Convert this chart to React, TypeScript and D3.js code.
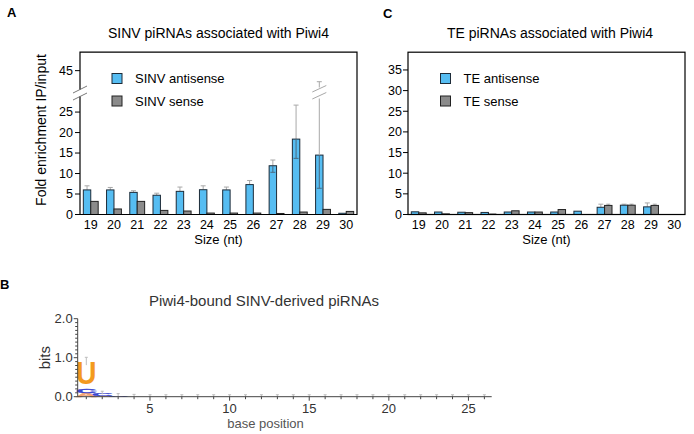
import * as d3 from 'd3'

// ---- data ----
const sizes = [19, 20, 21, 22, 23, 24, 25, 26, 27, 28, 29, 30]

const sinvAntisense = [6.0, 6.0, 5.4, 4.7, 5.65, 6.05, 6.0, 7.3, 11.9, 18.4, 14.5, 0.3]
const sinvAntisenseErrUp = [1.0, 0.6, 0.4, 0.5, 1.05, 0.95, 0.7, 1.0, 1.4, 8.3, 27.8, 0]
const sinvAntisenseErrDown = [0, 0, 0, 0, 0, 0, 0, 0, 1.6, 4.7, 8.1, 0]
const sinvSense = [3.2, 1.35, 3.2, 1.0, 0.85, 0.35, 0.35, 0.35, 0.25, 0.6, 1.25, 0.75]

const teAntisense = [0.65, 0.6, 0.55, 0.5, 0.6, 0.6, 0.6, 0.8, 1.75, 2.25, 1.85, 0]
const teAntisenseErr = [0, 0, 0, 0, 0, 0, 0, 0, 0.75, 0.25, 0.95, 0]
const teSense = [0.4, 0.15, 0.45, 0.1, 0.9, 0.6, 1.2, 0, 2.2, 2.25, 2.2, 0]
const teSenseErr = [0, 0, 0, 0, 0, 0, 0, 0, 0.3, 0.25, 0.3, 0]

const ticksALow = [0, 5, 10, 15, 20, 25]
const ticksAUp = [45]
const ticksC = [0, 5, 10, 15, 20, 25, 30, 35]

// sequence logo: stacked letters per position (bottom -> top), in bits
const logoStacks = [
  { pos: 1, letters: [{ l: 'A', bits: 0.1 }, { l: 'C', bits: 0.11 }, { l: 'U', bits: 0.7 }] },
  { pos: 2, letters: [{ l: 'A', bits: 0.03 }, { l: 'C', bits: 0.07 }] },
  { pos: 3, letters: [{ l: 'C', bits: 0.04 }] },
]
const logoPositions = d3.range(1, 27)
const logoTotal = [0.91, 0.1, 0.04, 0.01, 0, 0, 0, 0, 0, 0, 0, 0, 0, 0, 0, 0, 0, 0, 0, 0, 0, 0, 0, 0, 0, 0]
const logoErr = [0.1, 0.04, 0.04, 0.05, 0.05, 0.05, 0.05, 0.05, 0.05, 0.05, 0.05, 0.05, 0.05, 0.05, 0.05, 0.05, 0.05, 0.05, 0.05, 0.05, 0.05, 0.05, 0.05, 0.05, 0.05, 0.05]
const logoTicksMajor = [5, 10, 15, 20, 25]
const logoTicksY = [0, 1, 2]

const letterColor: Record<string, string> = { U: '#f39a1e', C: '#3a46cf', A: '#f2a272', G: '#f2b100' }

const FONT = 'Liberation Sans, Arial, Helvetica, sans-serif'
const BLUE = '#56bdf2'
const GRAY = '#8b8b8b'
const ERR = '#a8a8a8'

type BarProps = {
  x0: number
  x1: number
  y: (v: number) => number
  anti: number[]
  sense: number[]
  antiUp: number[]
  antiDown: number[]
  senseUp: number[]
}

function Bars({ x0, x1, y, anti, sense, antiUp, antiDown, senseUp }: BarProps) {
  const x = d3.scaleBand<number>().domain(sizes).range([x0, x1]).paddingInner(0.36).paddingOuter(0.143)
  const bw = x.bandwidth() / 2
  const y0 = y(0)
  return (
    <g>
      {sizes.map((s, i) => {
        const xa = x(s)!
        const xs = xa + bw
        const hasSense = sense[i] > 0
        return (
          <g key={s}>
            {sense[i] > 0 && senseUp[i] > 0 && (
              <g stroke={ERR} strokeWidth={1}>
                <line x1={xs + bw / 2} x2={xs + bw / 2} y1={y(sense[i])} y2={y(sense[i] + senseUp[i])} />
                <line x1={xs + bw / 2 - 2} x2={xs + bw / 2 + 2} y1={y(sense[i] + senseUp[i])} y2={y(sense[i] + senseUp[i])} />
              </g>
            )}
            {antiUp[i] > 0 && anti[i] + antiUp[i] <= 28.8 && (
              <g stroke={ERR} strokeWidth={1}>
                <line x1={xa + bw / 2} x2={xa + bw / 2} y1={y(anti[i])} y2={y(anti[i] + antiUp[i])} />
                <line x1={xa + bw / 2 - 2.5} x2={xa + bw / 2 + 2.5} y1={y(anti[i] + antiUp[i])} y2={y(anti[i] + antiUp[i])} />
              </g>
            )}
            {anti[i] > 0 && (
              <rect x={xa} y={y(anti[i])} width={bw} height={y0 - y(anti[i])} fill={BLUE} stroke="#1d2b38" strokeWidth={1} />
            )}
            {hasSense && (
              <rect x={xs} y={y(sense[i])} width={bw} height={y0 - y(sense[i])} fill={GRAY} stroke="#222" strokeWidth={1} />
            )}
            {antiDown[i] > 0 && (
              <line x1={xa + bw / 2} x2={xa + bw / 2} y1={y(anti[i])} y2={y(anti[i] - antiDown[i])} stroke="#4a6a80" strokeWidth={1} />
            )}
            {antiDown[i] > 0 && (
              <line x1={xa + bw / 2 - 2.5} x2={xa + bw / 2 + 2.5} y1={y(anti[i] - antiDown[i])} y2={y(anti[i] - antiDown[i])} stroke="#4a6a80" strokeWidth={1} />
            )}
          </g>
        )
      })}
    </g>
  )
}

function XLabels({ x0, x1, yBase }: { x0: number; x1: number; yBase: number }) {
  const x = d3.scaleBand<number>().domain(sizes).range([x0, x1]).paddingInner(0.36).paddingOuter(0.143)
  return (
    <g fontSize={12.5} textAnchor="middle">
      {sizes.map((s) => (
        <text key={s} x={x(s)! + x.bandwidth() / 2} y={yBase}>
          {s}
        </text>
      ))}
      <text x={(x0 + x1) / 2} y={yBase + 15} fontSize={13}>
        Size (nt)
      </text>
    </g>
  )
}

function Legend({ x, y, labels }: { x: number; y: number; labels: string[] }) {
  return (
    <g fontSize={13}>
      <rect x={x} y={y} width={10} height={10} fill={BLUE} stroke="#1d2b38" strokeWidth={1} />
      <text x={x + 23} y={y + 9.5}>{labels[0]}</text>
      <rect x={x} y={y + 22.5} width={10} height={10} fill={GRAY} stroke="#222" strokeWidth={1} />
      <text x={x + 23} y={y + 32}>{labels[1]}</text>
    </g>
  )
}

function PanelA() {
  const L = 80, R = 357, T = 52.2, B = 214.5
  const gapLo = 96.5, gapHi = 89.5
  const yLow = d3.scaleLinear().domain([0, 28.8]).range([B, gapLo])
  const yUp = d3.scaleLinear().domain([40.4, 49.5]).range([gapHi, T])
  const y = (v: number) => (v <= 28.8 ? yLow(v) : yUp(v))
  const x = d3.scaleBand<number>().domain(sizes).range([L, R]).paddingInner(0.36).paddingOuter(0.143)
  const bw = x.bandwidth() / 2
  // broken error bar for 29
  const i29 = sizes.indexOf(29)
  const cx29 = x(29)! + bw / 2
  const top29 = sinvAntisense[i29] + sinvAntisenseErrUp[i29]
  return (
    <g>
      <text x={7} y={17} fontSize={13} fontWeight="bold">A</text>
      <text x={(L + R) / 2} y={38} fontSize={14} textAnchor="middle">SINV piRNAs associated with Piwi4</text>
      <Bars x0={L} x1={R} y={y} anti={sinvAntisense} sense={sinvSense} antiUp={sinvAntisenseErrUp} antiDown={sinvAntisenseErrDown} senseUp={sizes.map(() => 0)} />
      <g stroke={ERR} strokeWidth={1}>
        <line x1={cx29} x2={cx29} y1={yLow(sinvAntisense[i29])} y2={gapLo + 2} />
        <line x1={cx29} x2={cx29} y1={gapHi - 2} y2={yUp(top29)} />
        <line x1={cx29 - 2.5} x2={cx29 + 2.5} y1={yUp(top29)} y2={yUp(top29)} />
        <line x1={cx29 - 7} x2={cx29 + 7} y1={gapHi + 2.5} y2={gapHi - 4} />
        <line x1={cx29 - 7} x2={cx29 + 7} y1={gapLo + 2.5} y2={gapLo - 4} />
      </g>
      {/* frame with broken left axis */}
      <g stroke="#000" strokeWidth={1.2} fill="none">
        <path d={`M${L},${gapHi}V${T}H${R}V${B}H${L}V${gapLo}`} />
        <line x1={L - 7} x2={L + 7} y1={gapHi + 3.5} y2={gapHi - 3.5} strokeWidth={0.8} stroke="#555" />
        <line x1={L - 7} x2={L + 7} y1={gapLo + 3.5} y2={gapLo - 3.5} strokeWidth={0.8} stroke="#555" />
      </g>
      <g fontSize={12.5} textAnchor="end">
        {[...ticksALow.map((t) => ({ t, yy: yLow(t) })), ...ticksAUp.map((t) => ({ t, yy: yUp(t) }))].map(({ t, yy }) => (
          <g key={t}>
            <line x1={L - 5} x2={L} y1={yy} y2={yy} stroke="#000" strokeWidth={1} />
            <text x={L - 7} y={yy + 4.3}>{t}</text>
          </g>
        ))}
      </g>
      <text transform={`translate(45.5,130) rotate(-90)`} fontSize={14} textAnchor="middle">
        Fold enrichment IP/input
      </text>
      <XLabels x0={L} x1={R} yBase={229} />
      <Legend x={112} y={73.5} labels={['SINV antisense', 'SINV sense']} />
    </g>
  )
}

function PanelC() {
  const L = 408, R = 685, T = 52.2, B = 214.5
  const y = d3.scaleLinear().domain([0, 39.3]).range([B, T])
  return (
    <g>
      <text x={383} y={18} fontSize={13} fontWeight="bold">C</text>
      <text x={550} y={38} fontSize={14} textAnchor="middle">TE piRNAs associated with Piwi4</text>
      <Bars x0={L} x1={R} y={y} anti={teAntisense} sense={teSense} antiUp={teAntisenseErr} antiDown={sizes.map(() => 0)} senseUp={teSenseErr} />
      <rect x={L} y={T} width={R - L} height={B - T} fill="none" stroke="#000" strokeWidth={1.2} />
      <g fontSize={12.5} textAnchor="end">
        {ticksC.map((t) => (
          <g key={t}>
            <line x1={L - 5} x2={L} y1={y(t)} y2={y(t)} stroke="#000" strokeWidth={1} />
            <text x={L - 6} y={y(t) + 4.3}>{t}</text>
          </g>
        ))}
      </g>
      <XLabels x0={L} x1={R} yBase={229} />
      <Legend x={440.5} y={73.5} labels={['TE antisense', 'TE sense']} />
    </g>
  )
}

function PanelB() {
  const x = d3.scaleLinear().domain([0.46, 26.46]).range([77.7, 491.7])
  const y = d3.scaleLinear().domain([0, 2]).range([396.7, 318.7])
  const step = x(2) - x(1)
  const minorY = d3.range(0, 2.0001, 0.1)
  return (
    <g>
      <text x={0} y={289} fontSize={13} fontWeight="bold">B</text>
      <text x={264} y={306} fontSize={15} textAnchor="middle" fill="#333">Piwi4-bound SINV-derived piRNAs</text>
      {/* letters */}
      {logoStacks.map((st) => {
        let acc = 0
        return (
          <g key={st.pos}>
            {st.letters.map((lt, k) => {
              const b0 = acc
              acc += lt.bits
              const yb = y(b0)
              const h = y(b0) - y(acc)
              const padB = lt.l === 'U' ? h * 0.16 : 0
              const gh = h - padB
              const w = step * 1.0
              const sx = w / 56
              const sy = gh / 72
              return (
                <text
                  key={k}
                  transform={`translate(${x(st.pos)},${yb - padB}) scale(${sx},${sy})`}
                  fontSize={100}
                  fontWeight="bold"
                  textAnchor="middle"
                  fill={letterColor[lt.l]}
                  stroke={lt.l === 'U' ? 'none' : letterColor[lt.l]}
                  strokeWidth={lt.l === 'U' ? 0 : 6}
                >
                  {lt.l}
                </text>
              )
            })}
          </g>
        )
      })}
      {/* error marks */}
      <g stroke="#bdbdbd" strokeWidth={1}>
        {logoPositions.map((p, i) => {
          const lo = Math.max(0, logoTotal[i] - logoErr[i])
          const hi = logoTotal[i] + logoErr[i]
          return (
            <g key={p}>
              <line x1={x(p)} x2={x(p)} y1={y(lo)} y2={y(hi)} />
              <line x1={x(p) - 1.5} x2={x(p) + 1.5} y1={y(hi)} y2={y(hi)} />
            </g>
          )
        })}
      </g>
      {/* axes */}
      <g stroke="#444" strokeWidth={1}>
        <line x1={x.range()[0]} x2={x.range()[0]} y1={y(2)} y2={y(0)} />
        <line x1={x.range()[0]} x2={x.range()[1]} y1={y(0)} y2={y(0)} />
        {minorY.map((t) => (
          <line key={t} x1={x.range()[0] - (Math.abs(t - Math.round(t)) < 1e-6 ? 4 : 2.5)} x2={x.range()[0]} y1={y(t)} y2={y(t)} />
        ))}
        {logoPositions.map((p) => (
          <line key={p} x1={x(p)} x2={x(p)} y1={y(0)} y2={y(0) + (p % 5 === 0 ? 4 : 2.5)} />
        ))}
      </g>
      <g fontSize={13} fill="#333" textAnchor="end">
        {logoTicksY.map((t) => (
          <text key={t} x={x.range()[0] - 5} y={y(t) + 4.5}>{t.toFixed(1)}</text>
        ))}
      </g>
      <g fontSize={13} fill="#333" textAnchor="middle">
        {logoTicksMajor.map((t) => (
          <text key={t} x={x(t)} y={413}>{t}</text>
        ))}
      </g>
      <text x={265.5} y={428} fontSize={13} fill="#555" textAnchor="middle">base position</text>
      <text transform={`translate(50,357.7) rotate(-90)`} fontSize={15} fill="#333" textAnchor="middle">bits</text>
    </g>
  )
}

export default function App() {
  return (
    <svg
      width={694}
      height={434}
      style={{ position: 'absolute', left: 0, top: 0, background: '#fff' }}
      fontFamily={FONT}
    >
      <rect width={694} height={434} fill="#fff" />
      <PanelA />
      <PanelC />
      <PanelB />
    </svg>
  )
}
